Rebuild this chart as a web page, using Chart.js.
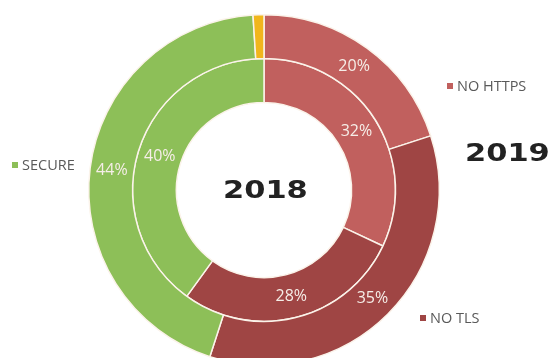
<!DOCTYPE html>
<html lang="en">

<head>
    <meta charset="UTF-8">
    <title>HTTPS / TLS adoption 2018 vs 2019</title>
    <script src="https://cdn.jsdelivr.net/npm/chart.js"></script>
    <style>
        html, body {
            margin: 0;
            padding: 0;
            width: 553px;
            height: 358px;
            overflow: hidden;
            background: #fff;
        }
        #wrap {
            position: relative;
            width: 553px;
            height: 358px;
        }
        canvas {
            position: absolute;
            left: 0;
            top: 0;
        }
        .legend {
            position: absolute;
            font-family: "Open Sans", sans-serif;
            font-size: 14.5px;
            color: #595959;
            line-height: 16px;
            white-space: nowrap;
        }
        .legend i {
            display: inline-block;
            width: 6px;
            height: 6px;
            margin-right: 4px;
            vertical-align: 2px;
        }
        .year {
            position: absolute;
            font-family: "DejaVu Sans", sans-serif;
            font-weight: bold;
            font-size: 24px;
            color: #222;
            transform: scaleX(1.27);
            transform-origin: left center;
            line-height: 24px;
        }
    </style>
</head>

<body>
    <div id="wrap">
        <canvas id="ringChart" width="553" height="380"></canvas>
        <div class="legend" style="left:447px; top:78px;"><i id="mk0"></i>NO HTTPS</div>
        <div class="legend" style="left:12px; top:157px;"><i id="mk2"></i>SECURE</div>
        <div class="legend" style="left:420px; top:310px;"><i id="mk1"></i>NO TLS</div>
        <div class="year" style="left:223px; top:178px;">2018</div>
        <div class="year" style="left:465px; top:141px;">2019</div>
    </div>

    <script>
        // categories and yearly shares (percent)
        const categories = ['NO HTTPS', 'NO TLS', 'SECURE', 'OTHER'];
        const values2019 = [20, 35, 44, 1];
        const values2018 = [32, 28, 40, 0];
        const sliceColors = ['#c1605e', '#9f4544', '#8dbf58', '#f1b61c'];

        // legend markers share the slice colours
        for (let i = 0; i < 3; i++) {
            document.getElementById('mk' + i).style.background = sliceColors[i];
        }

        // percentage text in the middle of each slice
        const sliceLabels = {
            id: 'sliceLabels',
            afterDatasetsDraw(chart) {
                const ctx = chart.ctx;
                ctx.save();
                ctx.font = '16px "Open Sans", sans-serif';
                ctx.fillStyle = '#f6eee8';
                ctx.textAlign = 'center';
                ctx.textBaseline = 'middle';
                chart.data.datasets.forEach((ds, di) => {
                    const meta = chart.getDatasetMeta(di);
                    meta.data.forEach((arc, i) => {
                        const v = ds.data[i];
                        if (i === 3 || !v) return;
                        const p = arc.getCenterPoint();
                        ctx.fillText(v + '%', p.x, p.y);
                    });
                });
                ctx.restore();
            }
        };

        const ctx = document.getElementById('ringChart').getContext('2d');
        window.ringChartInstance = new Chart(ctx, {
            type: 'doughnut',
            data: {
                labels: categories,
                datasets: [{
                    label: '2019',
                    data: values2019,
                    backgroundColor: sliceColors,
                    borderColor: '#fbf3ea',
                    borderWidth: 1.5
                }, {
                    label: '2018',
                    data: values2018,
                    backgroundColor: sliceColors,
                    borderColor: '#fbf3ea',
                    borderWidth: 1.5
                }]
            },
            options: {
                responsive: false,
                animation: false,
                cutout: '50%',
                layout: {
                    padding: { left: 88, right: 113, top: 14, bottom: 14 }
                },
                plugins: {
                    legend: { display: false },
                    tooltip: { enabled: false }
                }
            },
            plugins: [sliceLabels]
        });
    </script>
</body>

</html>
